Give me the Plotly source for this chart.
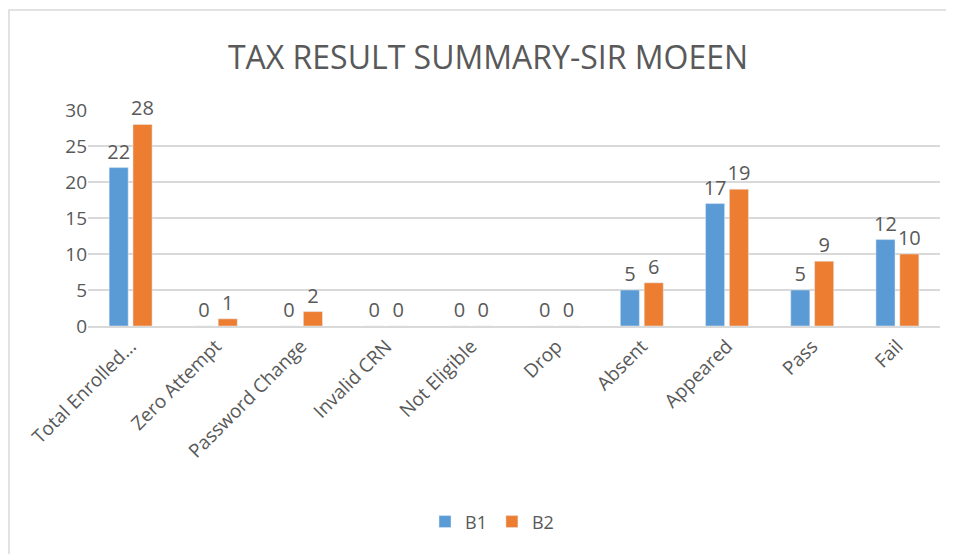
import plotly.graph_objects as go

categories = ["Total Enrolled...", "Zero Attempt", "Password Change", "Invalid CRN",
              "Not Eligible", "Drop", "Absent", "Appeared", "Pass", "Fail"]
b1_values = [22, 0, 0, 0, 0, 0, 5, 17, 5, 12]
b2_values = [28, 1, 2, 0, 0, 0, 6, 19, 9, 10]
y_ticks = [0, 5, 10, 15, 20, 25, 30]

FONT = "Open Sans"
TXT = "#595959"
OFF = 8  # page body margin

fig = go.Figure()
fig.add_trace(go.Bar(name="B1", x=categories, y=b1_values, marker_color="#5b9bd5",
                     text=b1_values, textposition="outside", cliponaxis=False,
                     constraintext="none",
                     textfont=dict(size=20, color=TXT, family=FONT)))
fig.add_trace(go.Bar(name="B2", x=categories, y=b2_values, marker_color="#ed7d31",
                     text=b2_values, textposition="outside", cliponaxis=False,
                     constraintext="none",
                     textfont=dict(size=20, color=TXT, family=FONT)))

fig.update_layout(
    width=954, height=554,
    margin=dict(l=88 - OFF, r=14 + OFF, t=110 - OFF, b=228 + OFF),
    paper_bgcolor="white", plot_bgcolor="white",
    barmode="group", bargap=0.44, bargroupgap=0.2,
    title=dict(text="TAX RESULT SUMMARY-SIR MOEEN", x=(488 - OFF) / 954, xanchor="center",
               y=1 - (58 - OFF) / 554, yanchor="middle", yref="container",
               font=dict(size=32, color=TXT, family=FONT)),
    font=dict(family=FONT, color=TXT),
    legend=dict(orientation="h", x=(492 - 88) / 852, xanchor="center", y=-0.907, yanchor="middle",
                font=dict(size=18, color=TXT, family=FONT), itemwidth=30),
    shapes=[dict(type="rect", xref="paper", yref="paper",
                 x0=-79 / 852, x1=(951 - 88) / 852, y0=-1.3, y1=(326 - 10) / 216,
                 line=dict(color="#d9d9d9", width=1.5), fillcolor="rgba(0,0,0,0)", layer="below")],
)
fig.update_yaxes(range=[0, 30], tickvals=y_ticks, showgrid=True, gridcolor="#d9d9d9",
                 gridwidth=1.5, zeroline=False, showline=False,
                 tickfont=dict(size=19, color=TXT, family=FONT), ticks="", ticklen=0)
fig.update_xaxes(tickangle=-45, showline=True, linecolor="#d9d9d9", linewidth=1.5,
                 tickfont=dict(size=19, color=TXT, family=FONT), ticks="")

fig.write_html("out.html")
